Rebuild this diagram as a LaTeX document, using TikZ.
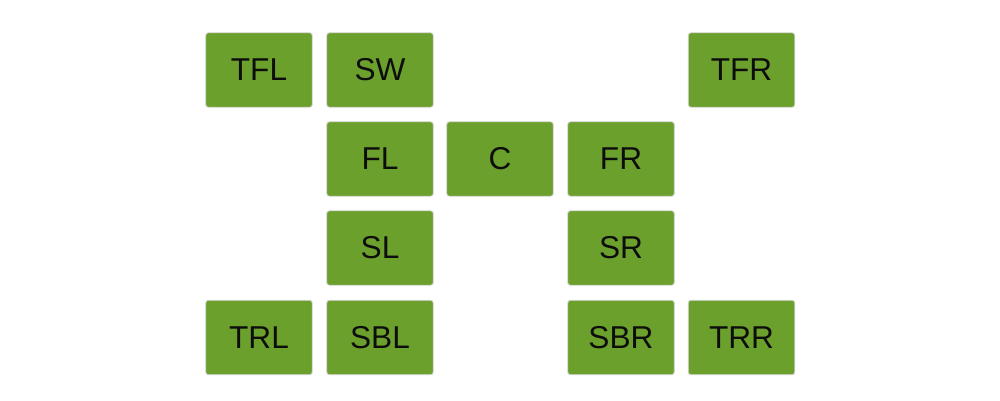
\documentclass[tikz,border=0pt]{standalone}
\usepackage{fontspec}
\setmainfont{Liberation Sans}
\definecolor{spkgreen}{RGB}{108,160,44}
\tikzset{spk/.style={draw=gray!35, fill=spkgreen, rounded corners=1.5pt, line width=.5pt,
  minimum width=2.13cm, minimum height=1.49cm, inner sep=0pt,
  font=\fontsize{18}{20}\selectfont, text=black!95}}

\begin{document}
\begin{tikzpicture}[x=0.02cm,y=0.02cm]
\useasboundingbox (0,0) rectangle (1000,400);

\node[spk] (tfl) at (259,330) {TFL};
\node[spk] (sw)  at (380,330) {SW};
\node[spk] (tfr) at (741.5,330) {TFR};

\node[spk] (fl)  at (380,241) {FL};
\node[spk] (c)   at (500,241) {C};
\node[spk] (fr)  at (621,241) {FR};

\node[spk] (sl)  at (380,152) {SL};
\node[spk] (sr)  at (621,152) {SR};

\node[spk] (trl) at (259,62.5) {TRL};
\node[spk] (sbl) at (380,62.5) {SBL};
\node[spk] (sbr) at (621,62.5) {SBR};
\node[spk] (trr) at (741.5,62.5) {TRR};

\end{tikzpicture}
\end{document}
